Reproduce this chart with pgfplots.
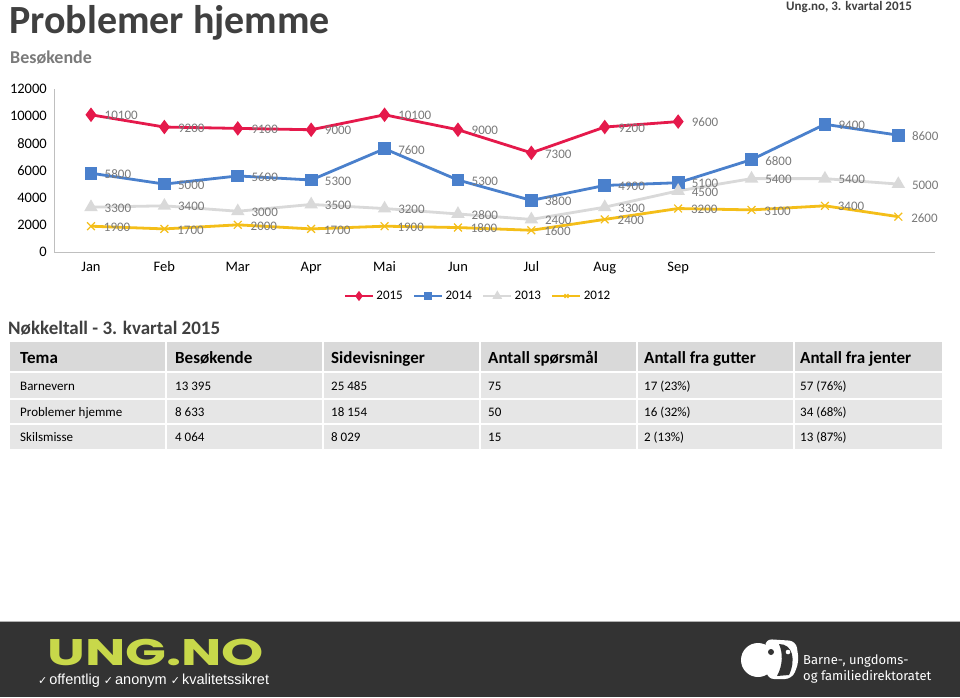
\documentclass[border=0pt]{standalone}
\usepackage{pgfplots}
\pgfplotsset{compat=1.18}
\usepackage{fontspec}
\setmainfont{Carlito}
\newfontfamily\dejavu{DejaVu Sans}
\newfontfamily\arial{Liberation Sans}
\newfontfamily\fira{Fira Sans}
\newfontfamily\poppins{Poppins}
\definecolor{cred}{HTML}{E5194B}
\definecolor{cblue}{HTML}{4A80CC}
\definecolor{cgray}{HTML}{D9D9D9}
\definecolor{cyel}{HTML}{F4BE19}
\definecolor{lblgray}{HTML}{7A7A7A}
\definecolor{titlegray}{HTML}{404040}
\definecolor{hdrfill}{HTML}{D9D9D9}
\definecolor{rowfill}{HTML}{E6E6E6}
\definecolor{footer}{HTML}{333333}
\definecolor{lime}{HTML}{C8D84A}
\newcommand{\fs}[1]{\fontsize{#1}{#1}\selectfont}
\newcommand{\chk}{{\dejavu\fs{11}✓}\kern2pt}
\begin{document}
\begin{tikzpicture}[x=1pt,y=1pt]
\useasboundingbox (0,0) rectangle (960,697);
\fill[white] (0,0) rectangle (960,697);
% titles
\node[anchor=base west, inner sep=0, text=titlegray] at (9,663) {\fs{40}\bfseries Problemer hjemme};
\node[anchor=base west, inner sep=0, text=lblgray] at (10,633) {\fs{18}\bfseries Besøkende};
\node[anchor=base east, inner sep=0, text=titlegray] at (912,686) {\fs{13}\bfseries Ung.no, 3. kvartal 2015};
% chart
\begin{axis}[
  at={(54.3pt,445pt)}, anchor=south west,
  width=880.7pt, height=163pt, scale only axis,
  xmin=-0.5, xmax=11.5, ymin=0, ymax=12000,
  axis x line=bottom, axis y line=left,
  axis line style={draw=gray!50, -, line width=0.8pt},
  major tick length=0pt,
  scaled y ticks=false,
  xtick={0,...,11},
  xticklabels={Jan,Feb,Mar,Apr,Mai,Jun,Jul,Aug,Sep,,,},
  ytick={0,2000,...,12000},
  /pgf/number format/1000 sep={},
  /pgf/number format/assume math mode=true,
  ticklabel style={font=\fs{14.5}, text=black},
  xticklabel style={yshift=-6pt, text height=10pt, text depth=3pt},
  yticklabel style={xshift=-4pt},
  every node near coord/.append style={anchor=west, xshift=9pt, yshift=-1pt, font=\fs{13}, text=lblgray},
  legend columns=4,
  legend style={at={(0.481,-0.27)}, anchor=center, draw=none, fill=none, font=\fs{13},
    /tikz/every even column/.append style={column sep=8pt}},
  legend image code/.code={\draw[mark repeat=2,mark phase=2,mark size=2.8pt] plot coordinates {(0pt,0pt) (14pt,0pt) (28pt,0pt)};},
  clip=false
]
\addplot[cred, line width=2.8pt, mark=diamond*, mark size=5pt, mark options={solid}, nodes near coords] coordinates {
(0,10100) (1,9200) (2,9100) (3,9000) (4,10100) (5,9000) (6,7300) (7,9200) (8,9600)};
\addlegendentry{2015}
\addplot[cblue, line width=2.8pt, mark=square*, mark size=5pt, nodes near coords] coordinates {
(0,5800) (1,5000) (2,5600) (3,5300) (4,7600) (5,5300) (6,3800) (7,4900) (8,5100) (9,6800) (10,9400) (11,8600)};
\addlegendentry{2014}
\addplot[cgray, line width=2.8pt, mark=triangle*, mark size=5pt, nodes near coords] coordinates {
(0,3300) (1,3400) (2,3000) (3,3500) (4,3200) (5,2800) (6,2400) (7,3300) (8,4500) (9,5400) (10,5400) (11,5000)};
\addlegendentry{2013}
\addplot[cyel, line width=2.8pt, mark=x, mark size=5.5pt, mark options={line width=1.2pt}, nodes near coords] coordinates {
(0,1900) (1,1700) (2,2000) (3,1700) (4,1900) (5,1800) (6,1600) (7,2400) (8,3200) (9,3100) (10,3400) (11,2600)};
\addlegendentry{2012}
\end{axis}
% table
\node[anchor=base west, inner sep=0, text=titlegray] at (8,697-334) {\fs{19}\bfseries Nøkkeltall - 3. kvartal 2015};
\def\cols{{10,167,324,481,638,795,944}}
\foreach \i in {0,...,5}{
  \pgfmathsetmacro{\xa}{\cols[\i]}
  \pgfmathsetmacro{\xb}{\cols[\i+1]-2}
  \fill[hdrfill] (\xa,697-342) rectangle (\xb,697-371);
  \fill[rowfill] (\xa,697-373) rectangle (\xb,697-398);
  \fill[rowfill] (\xa,697-400) rectangle (\xb,697-423);
  \fill[rowfill] (\xa,697-425) rectangle (\xb,697-449);
}
\foreach \x/\t in {20/Tema,175/Besøkende,331/Sidevisninger,488/Antall spørsmål,644/Antall fra gutter,800/Antall fra jenter}
  \node[anchor=base west, inner sep=0, text=black] at (\x,697-363) {\fs{17}\bfseries \t};
\foreach \x/\t in {20/Barnevern,175/13 395,331/25 485,488/75,644/17 (23\%),800/57 (76\%)}
  \node[anchor=base west, inner sep=0, text=black] at (\x,697-390) {\fs{13}\t};
\foreach \x/\t in {20/Problemer hjemme,175/8 633,331/18 154,488/50,644/16 (32\%),800/34 (68\%)}
  \node[anchor=base west, inner sep=0, text=black] at (\x,697-416) {\fs{13}\t};
\foreach \x/\t in {20/Skilsmisse,175/4 064,331/8 029,488/15,644/2 (13\%),800/13 (87\%)}
  \node[anchor=base west, inner sep=0, text=black] at (\x,697-441) {\fs{13}\t};
% footer
\fill[footer] (0,0) rectangle (960,697-621);
\draw[gray!60, line width=1pt] (0,697-621) -- (960,697-621);
\node[anchor=base west, inner sep=0, text=lime, xscale=1.45] at (47,697-665) {\fs{37}\poppins\bfseries UNG.NO};
\node[anchor=base west, inner sep=0, text=white] at (38,697-684) {\fs{14.5}\arial\chk offentlig \chk anonym \chk kvalitetssikret};
% right logo
\fill[white] (758,697-660) circle (17);
\fill[white, rounded corners=7pt] (765,697-639) -- (796,697-641) -- (799,697-662) -- (792,697-679) -- (767,697-679) -- cycle;
\fill[footer] (779,697-644) .. controls (793,697-644) and (796,697-660) .. (789,697-675) -- (777,697-676) .. controls (783,697-665) and (783,697-653) .. cycle;
\fill[footer] (771,697-652) circle (3);
\fill[white] (788,697-652) circle (2.3);
\node[anchor=base west, inner sep=0, text=white] at (803,697-664) {\fs{13}\fira Barne-, ungdoms-};
\node[anchor=base west, inner sep=0, text=white] at (803,697-680) {\fs{13}\fira og familiedirektoratet};
\end{tikzpicture}
\end{document}
